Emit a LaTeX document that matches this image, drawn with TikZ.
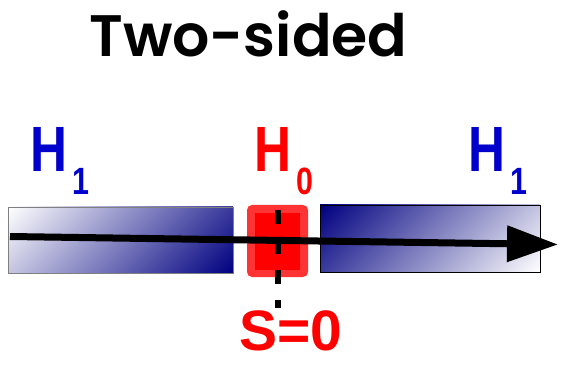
\documentclass[tikz,border=0pt]{standalone}
\usepackage{fontspec}
\usetikzlibrary{arrows.meta,positioning}
\newfontfamily\titlefont{Poppins SemiBold}
\newfontfamily\hypfont[FakeStretch=0.8]{Liberation Sans}
\newfontfamily\statfont{Liberation Sans}
\definecolor{hypBlue}{RGB}{0,0,204}
\definecolor{hypRed}{RGB}{255,0,0}
\definecolor{hypLightRed}{RGB}{255,51,51}
\definecolor{hypNavy}{RGB}{0,0,128}
\pgfdeclarehorizontalshading{barFadeIn}{100bp}{color(0bp)=(white); color(14.6bp)=(white);
  color(85.4bp)=(hypNavy); color(100bp)=(hypNavy)}
\pgfdeclarehorizontalshading{barFadeOut}{100bp}{color(0bp)=(hypNavy); color(14.6bp)=(hypNavy);
  color(85.4bp)=(white); color(100bp)=(white)}
\newcommand{\hypsub}[1]{\kern5pt\raisebox{-23pt}{\fontsize{38}{38}\selectfont #1}}

\begin{document}
\begin{tikzpicture}[
  x=1pt,y=-1pt,
  title/.style={
    anchor=base,
    inner sep=0pt,
    font=\titlefont\fontsize{58.5}{58.5}\selectfont
  },
  hyp/.style={
    anchor=base west,
    inner sep=0pt,
    font=\hypfont\bfseries\fontsize{64}{64}\selectfont
  },
  bar/.style={
    inner sep=0pt,
    line width=0.8pt,
    shading angle=-45
  },
  testarrow/.style={-{Triangle[length=51pt,width=35pt]},line width=7pt,black}
]
  \useasboundingbox (0,0) rectangle (562,366);
  \node[title] (title) at (248.5,57) {Two-sided};
  % hypotheses
  \node[hyp,text=hypBlue] (h1left) at (30,172) {H\hypsub{1}};
  \node[hyp,text=hypRed] (h0) at (254,172) {H\hypsub{0}};
  \node[hyp,text=hypBlue] (h1right) at (468,172) {H\hypsub{1}};
  % rejection and acceptance regions
  \node[bar,draw=gray,shading=barFadeIn,
        minimum width=225pt,minimum height=66pt] (leftbar) at (120.5,240) {};
  \node[bar,draw=black,shading=barFadeOut,
        minimum width=220pt,minimum height=67pt] (rightbar) at (430,238.5) {};
  \node[fill=hypLightRed,rounded corners=5pt,minimum width=61pt,minimum height=72pt,
        inner sep=0pt] (nullbox) at (277.5,241) {};
  \node[fill=hypRed,minimum width=45pt,minimum height=57pt,inner sep=0pt]
        (nullcore) at (277.5,241.5) {};
  \coordinate (dashtop) at (278,210);
  \coordinate (dashend) at (278,308);
  \draw[line width=6pt,dash pattern=on 14pt off 16pt] (dashtop) -- (dashend);
  % test statistic axis
  \coordinate (axisstart) at (10,236.5);
  \coordinate (axistip) at (558,244.5);
  \draw[testarrow] (axisstart) -- (axistip);
  \node[font=\statfont\bfseries\fontsize{57}{57}\selectfont,text=hypRed,anchor=base,
        inner sep=0pt] (stat) at (291,350) {S=0};
\end{tikzpicture}
\end{document}
